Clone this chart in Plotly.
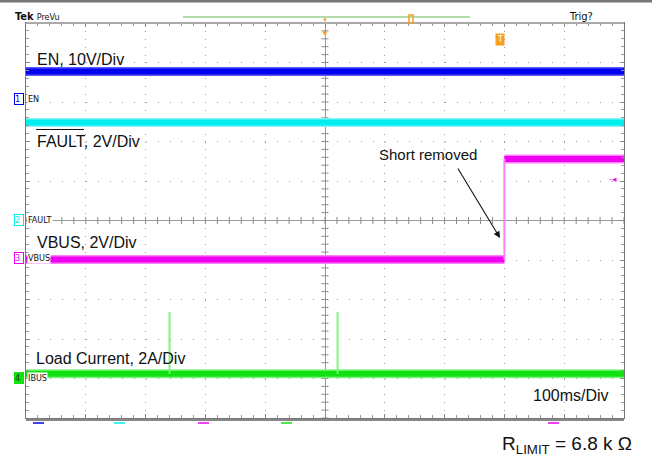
import numpy as np
import plotly.graph_objects as go

# screen geometry of the scope graticule (pixels in the 652x458 picture)
L, R, T, B = 26, 624, 23, 418

def px(x):
    return (x - L) / (R - L)

def py(y):
    return (B - y) / (B - T)

# --- data: time in ms (100 ms/div, trigger at 0), level in divisions ---
en_t = [-500, 500]
en_div = [3.77, 3.77]

fault_t = [-500, 500]
fault_div = [2.48, 2.48]

vbus_t = [-500, 300, 300, 500]
vbus_div = [-0.99, -0.99, 1.56, 1.56]

ibus_t = [-500, 500]
ibus_div = [-3.88, -3.88]
spike_t = [-260, 21]
spike_peak_div = [-2.32, -2.32]

channel_names = ["EN", "FAULT", "VBUS", "IBUS"]
channel_colors = ["#0000f0", "#00eeee", "#f000f0", "#11e011"]
channel_light = ["#5a5aff", "#7ff5f5", "#ff80ff", "#80f580"]


def split_segments(t, v):
    """Flat runs become the thick noisy band, vertical jumps become thin edges."""
    fx, fy, ex, ey = [], [], [], []
    for i in range(len(t) - 1):
        if t[i] == t[i + 1]:
            ex += [t[i], t[i + 1], None]
            ey += [v[i], v[i + 1], None]
        else:
            fx += [t[i], t[i + 1], None]
            fy += [v[i], v[i + 1], None]
    return fx, fy, ex, ey


fig = go.Figure()

# graticule tick marks on the centre cross
tick_t = np.arange(-500, 501, 20)
tick_v = np.arange(-5, 5.001, 0.2)
fig.add_trace(go.Scatter(x=tick_t, y=np.zeros_like(tick_t), mode="markers",
                         marker=dict(symbol="line-ns", size=5, line=dict(color="#8a8a8a", width=1)),
                         hoverinfo="skip", showlegend=False))
fig.add_trace(go.Scatter(x=np.zeros_like(tick_v), y=tick_v, mode="markers",
                         marker=dict(symbol="line-ew", size=5, line=dict(color="#8a8a8a", width=1)),
                         hoverinfo="skip", showlegend=False))

signals = [(en_t, en_div), (fault_t, fault_div), (vbus_t, vbus_div), (ibus_t, ibus_div)]
for (t, v), col, light in zip(signals, channel_colors, channel_light):
    fx, fy, ex, ey = split_segments(t, v)
    fig.add_trace(go.Scatter(x=fx, y=fy, mode="lines", line=dict(color=light, width=9),
                             hoverinfo="skip", showlegend=False))
    fig.add_trace(go.Scatter(x=fx, y=fy, mode="lines", line=dict(color=col, width=6),
                             hoverinfo="skip", showlegend=False))
    if ex:
        fig.add_trace(go.Scatter(x=ex, y=ey, mode="lines", line=dict(color=light, width=2),
                                 hoverinfo="skip", showlegend=False))

# load current spikes
sx, sy = [], []
for t, p in zip(spike_t, spike_peak_div):
    sx += [t, t, None]
    sy += [ibus_div[0], p, None]
fig.add_trace(go.Scatter(x=sx, y=sy, mode="lines", line=dict(color="#7cf57c", width=2),
                         hoverinfo="skip", showlegend=False))

axis_common = dict(showticklabels=False, showline=True, linecolor="#777", linewidth=1,
                   mirror="allticks", ticks="inside", tickcolor="#888", zeroline=True,
                   zerolinecolor="#999", zerolinewidth=1, gridcolor="#9a9a9a", gridwidth=1)
fig.update_xaxes(range=[-500, 500], dtick=100, tick0=0, ticklen=4,
                 griddash="1px,6.9px",
                 minor=dict(ticks="inside", dtick=20, ticklen=3, tickcolor="#999", showgrid=False),
                 **axis_common)
fig.update_yaxes(range=[-5, 5], dtick=1, tick0=0, ticklen=4,
                 griddash="1px,10.96px",
                 minor=dict(ticks="inside", dtick=0.2, ticklen=3, tickcolor="#999", showgrid=False),
                 **axis_common)

font = "Liberation Sans, Arial, sans-serif"
ann = []


def label(text, x, y, size=16, anchor="left", color="#111", **kw):
    ann.append(dict(text=text, x=px(x), y=py(y), xref="paper", yref="paper",
                    xanchor=anchor, yanchor="middle", showarrow=False,
                    font=dict(family=kw.pop("family", font), size=size, color=color), **kw))


label("EN, 10V/Div", 35, 59)
label("FAULT, 2V/Div", 35, 141)
label("VBUS, 2V/Div", 35, 242)
label("Load Current, 2A/Div", 34, 358)
label("100ms/Div", 611, 395, anchor="right")
label("Short removed", 377, 154, size=15)
label("R<sub>LIMIT</sub> = 6.8 k Ω", 634, 445, size=19, anchor="right")
label("<b>Tek</b> <span style='font-size:9px'>PreVu</span>", 13, 17, size=11, family="DejaVu Sans Condensed, DejaVu Sans")
label("Trig?", 567, 17, size=11, family="DejaVu Sans Condensed, DejaVu Sans")

# channel ground markers
marker_y = [99, 220, 258, 378]
for i, (name, col, yy) in enumerate(zip(channel_names, channel_colors, marker_y)):
    filled = i == 3
    ann.append(dict(text=str(i + 1) + " ", x=px(19), y=py(yy), xref="paper", yref="paper",
                    showarrow=False, xanchor="center", yanchor="middle",
                    font=dict(family="DejaVu Sans Condensed, DejaVu Sans", size=9,
                              color="#0a440a" if filled else col),
                    bgcolor=col if filled else "white", bordercolor=col, borderwidth=1, borderpad=0))
    ann.append(dict(text=name, x=px(27), y=py(yy), xref="paper", yref="paper",
                    showarrow=False, xanchor="left", yanchor="middle", bgcolor="white",
                    font=dict(family="DejaVu Sans Condensed, DejaVu Sans", size=9, color="#111"),
                    borderpad=0))

# arrow to the edge
ann.append(dict(text="", x=px(500), y=py(238), xref="paper", yref="paper",
                ax=457 - 500, ay=167 - 238, showarrow=True, arrowhead=2, arrowsize=1.2,
                arrowwidth=1.1, arrowcolor="#111"))

# trigger / status glyphs
for txt, x, y, size in [("▼", 325, 14, 6), ("▼", 325, 25, 8), ("-◂", 619, 178, 9)]:
    ann.append(dict(text=txt, x=px(x), y=py(y), xref="paper", yref="paper", showarrow=False,
                    font=dict(size=size, color="#f0a020" if txt == "▼" else "#e020e0")))
ann.append(dict(text="T", x=px(505), y=py(33), xref="paper", yref="paper", showarrow=False,
                font=dict(family="DejaVu Sans", size=8, color="white"), bgcolor="#f5a020",
                borderpad=1))

shapes = [
    dict(type="line", xref="paper", yref="paper", x0=px(0), x1=px(652), y0=py(1), y1=py(1),
         line=dict(color="#777", width=3)),
    dict(type="line", xref="paper", yref="paper", x0=px(183), x1=px(470), y0=py(17), y1=py(17),
         line=dict(color="#66bb55", width=1)),
    dict(type="line", xref="paper", yref="paper", x0=px(L), x1=px(R), y0=py(23), y1=py(23),
         line=dict(color="#aaa", width=2)),
    dict(type="rect", xref="paper", yref="paper", x0=px(409), x1=px(413), y0=py(15), y1=py(23),
         line=dict(color="#f0a020", width=1.5)),
    dict(type="line", xref="paper", yref="paper", x0=px(L), x1=px(R), y0=py(420), y1=py(420),
         line=dict(color="#888", width=2)),
    # overline on FAULT
    dict(type="line", xref="paper", yref="paper", x0=px(36), x1=px(84), y0=py(129.5), y1=py(129.5),
         line=dict(color="#111", width=1.2)),
]
for x0, col in [(33, channel_colors[0]), (114, channel_colors[1]), (198, channel_colors[2]),
                (281, channel_colors[3]), (548, channel_colors[2])]:
    shapes.append(dict(type="line", xref="paper", yref="paper", x0=px(x0), x1=px(x0 + 11),
                       y0=py(423), y1=py(423), line=dict(color=col, width=1.5)))

fig.update_layout(
    width=652, height=458,
    margin=dict(l=L, r=652 - R, t=T, b=458 - B),
    paper_bgcolor="white", plot_bgcolor="white",
    showlegend=False,
    annotations=ann, shapes=shapes,
)

fig.write_html("out.html", config={"displayModeBar": False},
               post_script="document.body.style.margin='0';")
